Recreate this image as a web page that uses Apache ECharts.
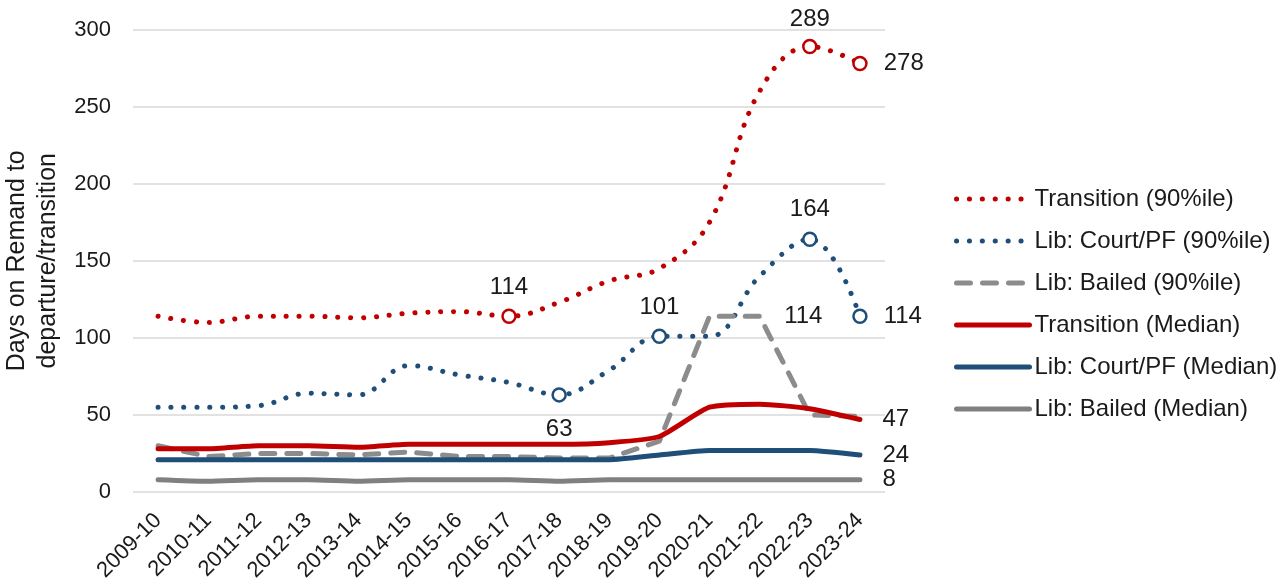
<!DOCTYPE html>
<html>
<head>
<meta charset="utf-8">
<script src="https://cdn.jsdelivr.net/npm/echarts@6/dist/echarts.min.js"></script>
<style>
  html, body { margin: 0; padding: 0; background: #fff; }
  #chart { width: 1286px; height: 588px; }
</style>
</head>
<body>
<div id="chart"></div>
<script>
// categories
const years = ['2009-10', '2010-11', '2011-12', '2012-13', '2013-14', '2014-15', '2015-16',
  '2016-17', '2017-18', '2018-19', '2019-20', '2020-21', '2021-22', '2022-23', '2023-24']

// days on remand
const transitionP90 = [114, 110, 114, 114, 113, 116, 117, 114, 123, 137, 145, 175, 260, 289, 278]
const courtP90 = [55, 55, 56, 64, 63, 82, 76, 71, 63, 79, 101, 101, 140, 164, 114]
const bailedP90 = [30, 23, 25, 25, 24, 26, 23, 23, 22, 22, 33, 114, 114, 50, 49]
const transitionMed = [28, 28, 30, 30, 29, 31, 31, 31, 31, 32, 36, 55, 57, 54, 47]
const courtMed = [21, 21, 21, 21, 21, 21, 21, 21, 21, 21, 24, 27, 27, 27, 24]
const bailedMed = [8, 7, 8, 8, 7, 8, 8, 8, 7, 8, 8, 8, 8, 8, 8]

const yMin = 0
const yMax = 300
const yStep = 50

const RED = '#C00000'
const BLUE = '#1F4E79'
const GREY = '#8C8C8C'
const TXT = '#1a1a1a'
const FONT = 'Liberation Sans, Arial, sans-serif'

// which points get a circle / a value label, and where the label sits
function labelled(values, marks, circle, color) {
  return values.map((v, i) => {
    const m = marks[i]
    if (!m) return v
    const item = {
      value: v,
      label: {
        show: true,
        position: m[0],
        distance: m[1],
        color: TXT,
        fontSize: 24,
        fontFamily: FONT
      }
    }
    if (circle) {
      item.symbol = 'circle'
      item.symbolSize = 13
      item.itemStyle = { color: '#fff', borderColor: color, borderWidth: 2.5 }
    } else {
      // invisible anchor so the label has something to sit on
      item.symbol = 'circle'
      item.symbolSize = 1
      item.itemStyle = { color: 'rgba(0,0,0,0)', borderWidth: 0 }
    }
    return item
  })
}

const dotted = [0.1, 12.8]
const dashed = [14, 12]

function line(name, data, color, type, width, smooth) {
  return {
    name: name,
    type: 'line',
    data: data,
    symbol: 'none',
    smooth: smooth,
    color: color,
    lineStyle: { color: color, width: width, type: type, cap: 'round', join: 'round' },
    itemStyle: { color: color },
    emphasis: { disabled: true },
    animation: false
  }
}

const chart = echarts.init(document.getElementById('chart'))
chart.setOption({
  backgroundColor: '#fff',
  textStyle: { fontFamily: FONT, color: TXT },
  grid: { left: 133, right: 401, top: 29.5, bottom: 96, outerBoundsMode: 'none', containLabel: false },
  legend: {
    orient: 'vertical',
    left: 949,
    top: 182,
    itemWidth: 73,
    itemHeight: 14,
    itemGap: 18,
    lineStyle: { width: 5 },
    itemStyle: { color: 'rgba(0,0,0,0)', borderColor: 'rgba(0,0,0,0)', borderWidth: 0 },
    textStyle: { fontSize: 24, color: TXT, fontFamily: FONT },
    data: ['Transition (90%ile)', 'Lib: Court/PF (90%ile)', 'Lib: Bailed (90%ile)',
      'Transition (Median)', 'Lib: Court/PF (Median)', 'Lib: Bailed (Median)']
  },
  xAxis: {
    type: 'category',
    data: years,
    boundaryGap: true,
    axisLine: { show: false },
    axisTick: { show: false },
    axisLabel: { rotate: 45, fontSize: 22, color: TXT, margin: 25, interval: 0 }
  },
  yAxis: {
    type: 'value',
    min: yMin,
    max: yMax,
    interval: yStep,
    name: 'Days on Remand to\ndeparture/transition',
    nameLocation: 'middle',
    nameGap: 66,
    nameTextStyle: { fontSize: 25, color: TXT, lineHeight: 31 },
    axisLine: { show: false },
    axisTick: { show: false },
    axisLabel: { fontSize: 22, color: TXT, margin: 22 },
    splitLine: { lineStyle: { color: '#d9d9d9', width: 1.5 } }
  },
  series: [
    line('Transition (90%ile)',
      labelled(transitionP90, { 7: ['top', 9], 13: ['top', 7], 14: ['right', 16] }, true, RED),
      RED, dotted, 5, 0.4),
    line('Lib: Court/PF (90%ile)',
      labelled(courtP90, { 8: ['bottom', 15], 10: ['top', 9], 13: ['top', 10], 14: ['right', 16] }, true, BLUE),
      BLUE, dotted, 5, 0.4),
    line('Lib: Bailed (90%ile)',
      labelled(bailedP90, { 12: ['right', 24] }, false),
      GREY, dashed, 5, false),
    line('Transition (Median)', labelled(transitionMed, { 14: ['right', 22] }, false), RED, 'solid', 5, 0.2),
    line('Lib: Court/PF (Median)', labelled(courtMed, { 14: ['right', 22] }, false), BLUE, 'solid', 5, 0.2),
    line('Lib: Bailed (Median)', labelled(bailedMed, { 14: ['right', 22] }, false), '#808080', 'solid', 5, 0.2)
  ]
})
</script>
</body>
</html>
